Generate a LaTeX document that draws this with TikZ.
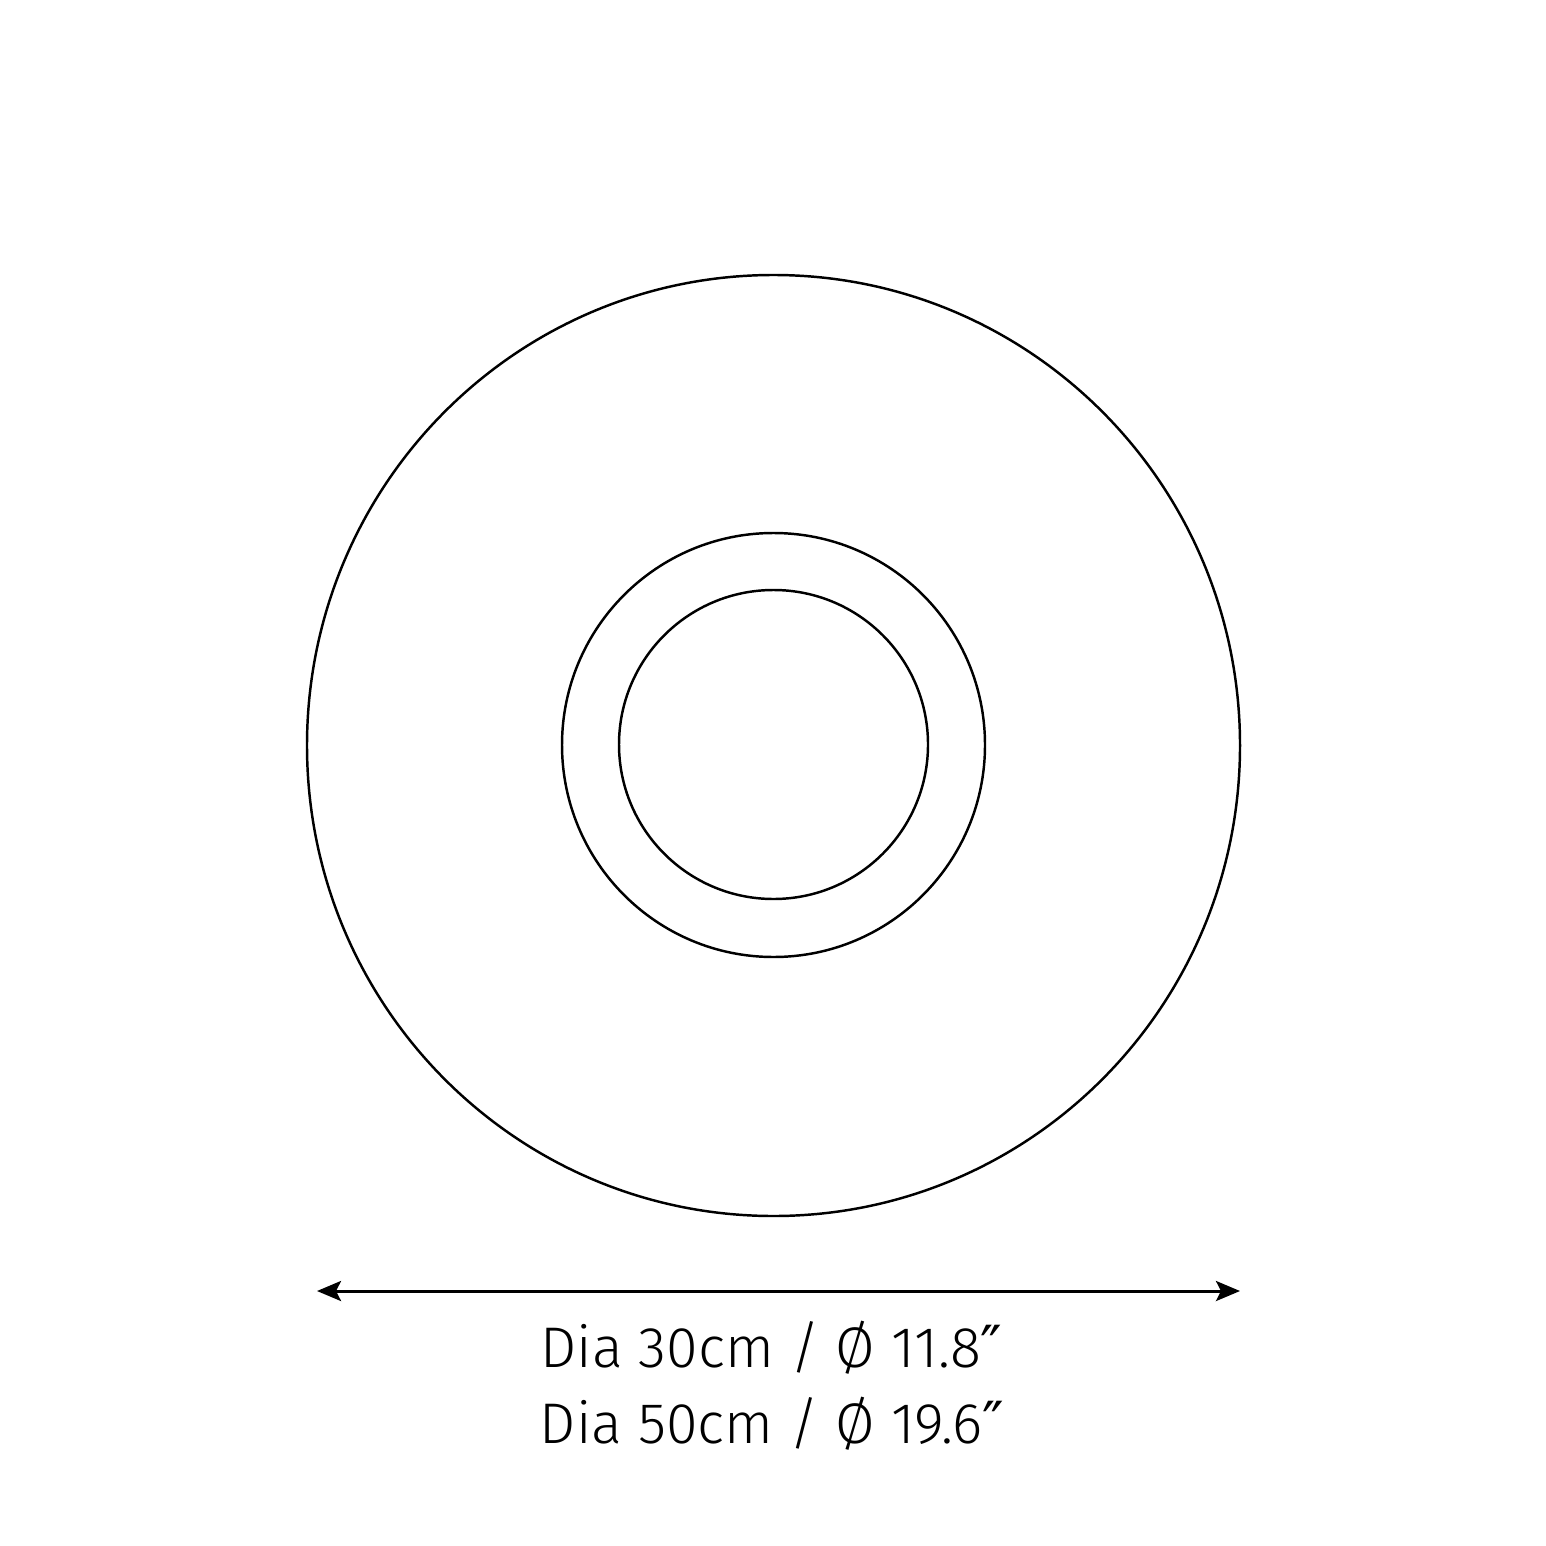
\documentclass[tikz,border=0pt]{standalone}
\usepackage{fontspec}
\setmainfont{Fira Sans}[UprightFont={* Light}]
\newfontfamily\symfont{DejaVu Sans}
\usetikzlibrary{arrows.meta}
\tikzset{
  outline/.style={draw=black, line width=0.7pt},
  dimline/.style={draw=black, line width=0.85pt, {Stealth[length=2.4mm,width=2.0mm,inset=0.5mm]}-{Stealth[length=2.4mm,width=2.0mm,inset=0.5mm]}},
  label/.style={font=\fontsize{16.3}{19}\selectfont, anchor=base, inner sep=0pt}
}
\newcommand{\dprime}{{\symfont\fontsize{16.5}{18}\selectfont ″}}
\begin{document}
\begin{tikzpicture}[x=0.01cm,y=-0.01cm]
\useasboundingbox (0,0) rectangle (1546,1546);
\draw[outline] (773.5,745.5) ellipse [x radius=466.5, y radius=470.5];
\draw[outline] (773.5,745) ellipse [x radius=211.5, y radius=212];
\draw[outline] (773.5,744.5) circle [radius=154.5];
\coordinate (L) at (317,1291);
\coordinate (R) at (1240,1291);
\draw[dimline] (L) -- (R);
\node[label] (t1) at (771.5,1367) {Dia 30cm / Ø 11.8\dprime};
\node[label] (t2) at (772,1443) {Dia 50cm / Ø 19.6\dprime};
\end{tikzpicture}
\end{document}
